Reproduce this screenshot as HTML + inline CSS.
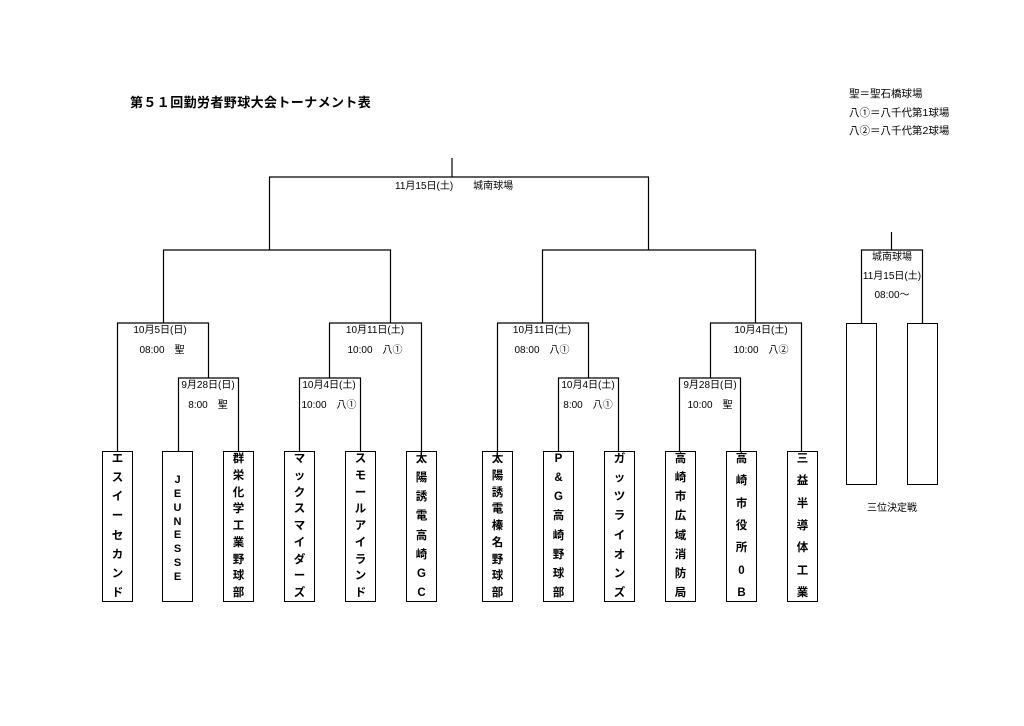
<!DOCTYPE html>
<html><head><meta charset="utf-8"><style>
body{margin:0;background:#fff;}
#p{position:relative;width:1024px;height:726px;overflow:hidden;font-family:"Liberation Sans","Noto Sans CJK JP",sans-serif;color:#000;}
.t{position:absolute;font-size:10px;white-space:nowrap;line-height:12px;}
.c{transform:translateX(-50%);}
.b{position:absolute;top:451px;width:31px;height:151px;border:1px solid #000;box-sizing:border-box;display:flex;flex-direction:column;justify-content:space-between;align-items:center;font-weight:bold;font-size:11.5px;line-height:12px;padding:1px 0 2px;}
.b span{display:block;}
.r{position:absolute;top:323px;width:31px;height:162px;border:1px solid #000;box-sizing:border-box;}
</style></head><body><div id="p">
<svg width="1024" height="726" style="position:absolute;left:0;top:0" stroke="#000" stroke-width="1.2" fill="none">
<path d="M452 158V177M269.5 250V177H648.5V250"/>
<path d="M163.5 323V250H390.5V323M542.5 323V250H755.5V323"/>
<path d="M117.5 451V323H208.5V378M178.5 451V378H238.5V451"/>
<path d="M329.5 378V323H421.5V451M299.5 451V378H360.5V451"/>
<path d="M497.5 451V323H588.5V378M558.5 451V378H618.5V451"/>
<path d="M710.5 378V323H801.5V451M679.5 451V378H740.5V451"/>
<path d="M891.5 232V250M861.5 323V250H922.5V323"/>
</svg>
<div class="t" style="left:130px;top:95px;font-size:13px;font-weight:bold;letter-spacing:0.4px;line-height:16px">第５１回勤労者野球大会トーナメント表</div>
<div class="t" style="left:849px;top:88px;font-size:10.5px">聖＝聖石橋球場</div>
<div class="t" style="left:849px;top:107px;font-size:10.5px">八①＝八千代第1球場</div>
<div class="t" style="left:849px;top:125px;font-size:10.5px">八②＝八千代第2球場</div>
<div class="t" style="left:395px;top:181px">11月15日(土)　　城南球場</div>
<div class="t c" style="left:160px;top:325px">10月5日(日)</div>
<div class="t c" style="left:162px;top:345px">08:00　聖</div>
<div class="t c" style="left:208px;top:380px">9月28日(日)</div>
<div class="t c" style="left:208px;top:400px">8:00　聖</div>
<div class="t c" style="left:375px;top:325px">10月11日(土)</div>
<div class="t c" style="left:375px;top:345px">10:00　八①</div>
<div class="t c" style="left:329px;top:380px">10月4日(土)</div>
<div class="t c" style="left:329px;top:400px">10:00　八①</div>
<div class="t c" style="left:542px;top:325px">10月11日(土)</div>
<div class="t c" style="left:542px;top:345px">08:00　八①</div>
<div class="t c" style="left:588px;top:380px">10月4日(土)</div>
<div class="t c" style="left:588px;top:400px">8:00　八①</div>
<div class="t c" style="left:761px;top:325px">10月4日(土)</div>
<div class="t c" style="left:761px;top:345px">10:00　八②</div>
<div class="t c" style="left:710px;top:380px">9月28日(日)</div>
<div class="t c" style="left:710px;top:400px">10:00　聖</div>
<div class="t c" style="left:892px;top:252px">城南球場</div>
<div class="t c" style="left:892px;top:271px">11月15日(土)</div>
<div class="t c" style="left:892px;top:290px">08:00～</div>
<div class="t c" style="left:892px;top:503px">三位決定戦</div>
<div class="r" style="left:846px"></div>
<div class="r" style="left:907px"></div>
<div class="b" style="left:102px"><span>エ</span><span>ス</span><span>イ</span><span>ー</span><span>セ</span><span>カ</span><span>ン</span><span>ド</span></div>
<div class="b" style="left:162px;padding:22px 0 18px;font-size:11px"><span>J</span><span>E</span><span>U</span><span>N</span><span>E</span><span>S</span><span>S</span><span>E</span></div>
<div class="b" style="left:223px"><span>群</span><span>栄</span><span>化</span><span>学</span><span>工</span><span>業</span><span>野</span><span>球</span><span>部</span></div>
<div class="b" style="left:284px"><span>マ</span><span>ッ</span><span>ク</span><span>ス</span><span>マ</span><span>イ</span><span>ダ</span><span>ー</span><span>ズ</span></div>
<div class="b" style="left:345px"><span>ス</span><span>モ</span><span>ー</span><span>ル</span><span>ア</span><span>イ</span><span>ラ</span><span>ン</span><span>ド</span></div>
<div class="b" style="left:406px"><span>太</span><span>陽</span><span>誘</span><span>電</span><span>高</span><span>崎</span><span>G</span><span>C</span></div>
<div class="b" style="left:482px"><span>太</span><span>陽</span><span>誘</span><span>電</span><span>榛</span><span>名</span><span>野</span><span>球</span><span>部</span></div>
<div class="b" style="left:543px"><span>P</span><span>&amp;</span><span>G</span><span>高</span><span>崎</span><span>野</span><span>球</span><span>部</span></div>
<div class="b" style="left:604px"><span>ガ</span><span>ッ</span><span>ツ</span><span>ラ</span><span>イ</span><span>オ</span><span>ン</span><span>ズ</span></div>
<div class="b" style="left:665px"><span>高</span><span>崎</span><span>市</span><span>広</span><span>域</span><span>消</span><span>防</span><span>局</span></div>
<div class="b" style="left:726px"><span>高</span><span>崎</span><span>市</span><span>役</span><span>所</span><span>0</span><span>B</span></div>
<div class="b" style="left:787px"><span>三</span><span>益</span><span>半</span><span>導</span><span>体</span><span>工</span><span>業</span></div>
</div></body></html>
